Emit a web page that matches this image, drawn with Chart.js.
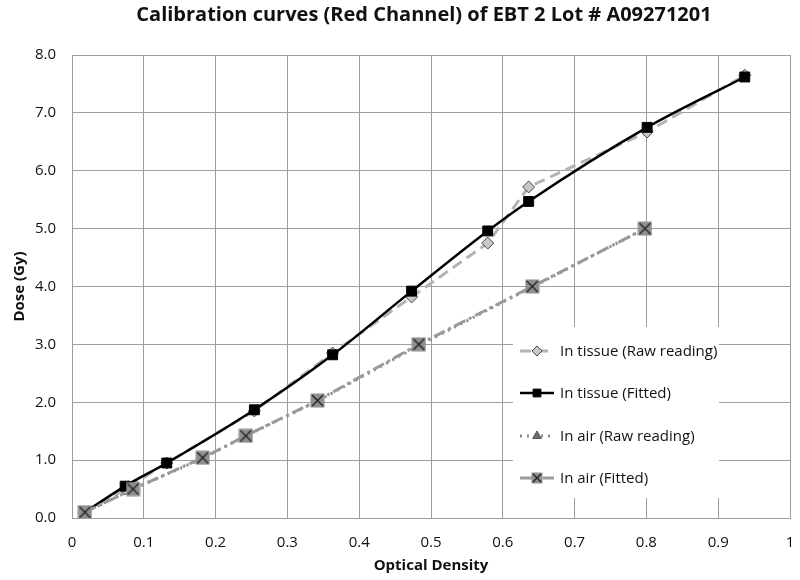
<!DOCTYPE html>
<html>
<head>
<meta charset="utf-8">
<script src="https://cdn.jsdelivr.net/npm/chart.js@4/dist/chart.umd.min.js"></script>
<style>
  html, body { margin: 0; padding: 0; background: #fff; }
  #wrap { position: relative; width: 800px; height: 580px; }
</style>
</head>
<body>
<div id="wrap"><canvas id="calChart" width="800" height="580"></canvas></div>
<script>
// ---- data ----
const tissueOD      = [0.018, 0.074, 0.132, 0.254, 0.363, 0.473, 0.579, 0.636, 0.801, 0.937];
const tissueRaw     = [0.10, 0.50, 0.95, 1.85, 2.85, 3.82, 4.75, 5.72, 6.67, 7.65];
const tissueFitted  = [0.10, 0.55, 0.95, 1.87, 2.82, 3.92, 4.96, 5.47, 6.75, 7.62];
const airOD         = [0.018, 0.085, 0.182, 0.242, 0.342, 0.483, 0.641, 0.798];
const airRaw        = [0.10, 0.50, 1.03, 1.42, 2.02, 2.98, 3.99, 5.00];
const airFitted     = [0.10, 0.50, 1.04, 1.42, 2.03, 3.00, 4.00, 5.00];
const seriesNames   = ['In tissue (Raw reading)', 'In tissue (Fitted)', 'In air (Raw reading)', 'In air (Fitted)'];
const xTickLabels   = ['0', '0.1', '0.2', '0.3', '0.4', '0.5', '0.6', '0.7', '0.8', '0.9', '1'];
const yTickLabels   = ['0.0', '1.0', '2.0', '3.0', '4.0', '5.0', '6.0', '7.0', '8.0'];

const FONT = '"Open Sans", "Liberation Sans", sans-serif';

function pts(xs, ys) { return xs.map((x, i) => ({ x: x, y: ys[i] })); }

// gray box with an X, like the Excel marker
function makeXMarker(size) {
  const c = document.createElement('canvas');
  c.width = size; c.height = size;
  const g = c.getContext('2d');
  g.fillStyle = '#8f8f8f';
  g.fillRect(0.5, 0.5, size - 1, size - 1);
  g.strokeStyle = '#222';
  g.lineWidth = 1.4;
  g.beginPath();
  g.moveTo(2, 2); g.lineTo(size - 2, size - 2);
  g.moveTo(size - 2, 2); g.lineTo(2, size - 2);
  g.stroke();
  return c;
}
const xMarker = makeXMarker(15);
const xMarkerSmall = makeXMarker(12);

const datasets = [
  {
    label: seriesNames[0], data: pts(tissueOD, tissueRaw), order: 4,
    borderColor: '#b4b4b4', borderWidth: 3, borderDash: [11, 6], tension: 0,
    pointStyle: 'rectRot', pointRadius: 6, pointBackgroundColor: '#c8c8c8',
    pointBorderColor: '#444', pointBorderWidth: 1
  },
  {
    label: seriesNames[1], data: pts(tissueOD, tissueFitted), order: 3,
    borderColor: '#000', borderWidth: 2.5, cubicInterpolationMode: 'monotone',
    pointStyle: 'rect', pointRadius: 7, pointBackgroundColor: '#000',
    pointBorderColor: '#000', pointBorderWidth: 1
  },
  {
    label: seriesNames[2], data: pts(airOD, airRaw), order: 2,
    borderColor: '#8a8a8a', borderWidth: 3, borderDash: [2, 5], tension: 0,
    pointStyle: 'triangle', pointRadius: 6, pointBackgroundColor: '#6e6e6e',
    pointBorderColor: '#555', pointBorderWidth: 1
  },
  {
    label: seriesNames[3], data: pts(airOD, airFitted), order: 1,
    borderColor: '#9a9a9a', borderWidth: 3, borderDash: [12, 4, 3, 4], tension: 0,
    pointStyle: xMarker, pointRadius: 7
  }
];

// draws the legend box inside the plot, bottom right
const insideLegend = {
  id: 'insideLegend',
  afterDraw(chart) {
    const ctx = chart.ctx;
    const bx = 513, by = 327, bw = 206, bh = 171;
    ctx.save();
    ctx.fillStyle = '#fff';
    ctx.fillRect(bx, by, bw, bh);
    const rows = [351, 393, 436, 478];
    chart.data.datasets.forEach((ds, i) => {
      const y = rows[i];
      ctx.save();
      ctx.strokeStyle = ds.borderColor;
      ctx.lineWidth = ds.borderWidth;
      ctx.setLineDash(ds.borderDash || []);
      ctx.beginPath();
      ctx.moveTo(520, y); ctx.lineTo(554, y);
      ctx.stroke();
      ctx.restore();
      ctx.save();
      ctx.fillStyle = ds.pointBackgroundColor || '#000';
      ctx.strokeStyle = ds.pointBorderColor || '#000';
      ctx.lineWidth = ds.pointBorderWidth || 1;
      const style = ds.pointStyle === xMarker ? xMarkerSmall : ds.pointStyle;
      Chart.helpers.drawPoint(ctx, {
        pointStyle: style,
        radius: ds.pointStyle === 'rect' ? 5.5 : 5,
        rotation: 0,
        borderWidth: ds.pointBorderWidth || 1
      }, 537, y);
      ctx.restore();
      ctx.fillStyle = '#111';
      ctx.font = '15px ' + FONT;
      ctx.textBaseline = 'middle';
      ctx.fillText(ds.label, 560, y + 1);
    });
    ctx.restore();
  }
};

const chartTitle = {
  id: 'chartTitle',
  afterDraw(chart) {
    const ctx = chart.ctx;
    ctx.save();
    ctx.fillStyle = '#111';
    ctx.font = 'bold 20px ' + FONT;
    ctx.textAlign = 'center';
    ctx.textBaseline = 'middle';
    ctx.fillText('Calibration curves (Red Channel) of EBT 2 Lot # A09271201', 424, 15);
    ctx.restore();
  }
};

Chart.defaults.font.family = FONT;
Chart.defaults.color = '#111';

const ctx = document.getElementById('calChart').getContext('2d');
const calChart = new Chart(ctx, {
  type: 'line',
  data: { datasets: datasets },
  options: {
    responsive: false,
    animation: false,
    layout: { padding: { top: 55, right: 5, left: 0, bottom: 0 } },
    plugins: { legend: { display: false }, tooltip: { enabled: false }, title: { display: false } },
    scales: {
      x: {
        type: 'linear', min: 0, max: 1,
        afterFit: (s) => { s.height = 62; s.paddingRight = 0; },
        afterBuildTicks: (s) => { s.ticks = xTickLabels.map(v => ({ value: parseFloat(v) })); },
        ticks: {
          font: { size: 15 }, padding: 16, autoSkip: false, maxRotation: 0,
          callback: (v) => xTickLabels[Math.round(v * 10)]
        },
        grid: { color: '#9e9e9e', lineWidth: 1, drawTicks: false },
        border: { color: '#9e9e9e' },
        title: { display: true, text: 'Optical Density', font: { size: 15, weight: 'bold' }, padding: { top: 4, bottom: 5 } }
      },
      y: {
        type: 'linear', min: 0, max: 8,
        afterFit: (s) => { s.width = 72; },
        afterBuildTicks: (s) => { s.ticks = yTickLabels.map(v => ({ value: parseFloat(v) })); },
        ticks: {
          font: { size: 15 }, padding: 16,
          callback: (v) => yTickLabels[Math.round(v)]
        },
        grid: { color: '#9e9e9e', lineWidth: 1, drawTicks: false },
        border: { color: '#9e9e9e' },
        title: { display: true, text: 'Dose (Gy)', font: { size: 15, weight: 'bold' }, padding: { top: 11, bottom: 4 } }
      }
    }
  },
  plugins: [insideLegend, chartTitle]
});
</script>
</body>
</html>
